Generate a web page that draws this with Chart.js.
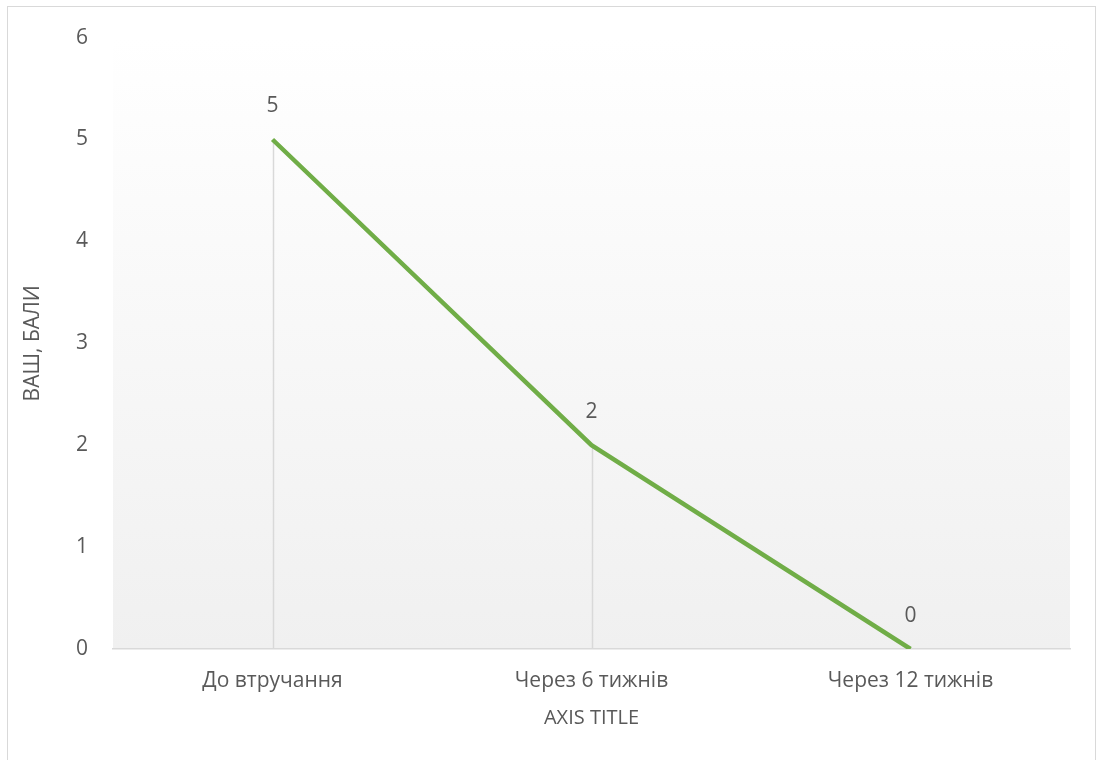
<!DOCTYPE html>
<html>
<head>
<meta charset="utf-8">
<script src="https://cdn.jsdelivr.net/npm/chart.js@4"></script>
<style>
  body { margin: 0; background: #fff; }
  #wrap { position: relative; width: 1099px; height: 760px; }
  #frame { position: absolute; left: 7px; top: 6px; width: 1089px; height: 800px; border: 1px solid #d9d9d9; box-sizing: border-box; }
</style>
</head>
<body>
<div id="wrap">
  <div id="frame"></div>
  <canvas id="myChart"></canvas>
</div>
<script>
const categories = ['До втручання', 'Через 6 тижнів', 'Через 12 тижнів'];
const vasScores = [5, 2, 0];
const yTicks = [0, 1, 2, 3, 4, 5, 6];

const textColor = '#595959';
const fontFamily = "'Open Sans', 'Noto Sans', sans-serif";

// gradient behind the plot area
const plotBg = {
  id: 'plotBg',
  beforeDraw(chart) {
    const {ctx, chartArea: a} = chart;
    const g = ctx.createLinearGradient(0, a.top, 0, a.bottom);
    g.addColorStop(0, '#ffffff');
    g.addColorStop(1, '#f0f0f0');
    ctx.save();
    ctx.fillStyle = g;
    ctx.fillRect(a.left, a.top, a.right - a.left, a.bottom - a.top);
    ctx.restore();
  }
};

// drop lines from each point to the axis + value labels
const dropLines = {
  id: 'dropLines',
  beforeDatasetsDraw(chart) {
    const {ctx, chartArea: a, scales: {x, y}} = chart;
    ctx.save();
    ctx.strokeStyle = '#d9d9d9';
    ctx.lineWidth = 1.5;
    vasScores.forEach((v, i) => {
      const px = Math.round(x.getPixelForValue(i)) + 0.5;
      ctx.beginPath();
      ctx.moveTo(px, y.getPixelForValue(v));
      ctx.lineTo(px, a.bottom);
      ctx.stroke();
    });
    ctx.restore();
  },
  afterDatasetsDraw(chart) {
    const {ctx, scales: {x, y}} = chart;
    ctx.save();
    ctx.fillStyle = textColor;
    ctx.font = '21px ' + fontFamily;
    ctx.textAlign = 'center';
    ctx.textBaseline = 'middle';
    vasScores.forEach((v, i) => {
      ctx.fillText(String(v), x.getPixelForValue(i), y.getPixelForValue(v) - 33);
    });
    ctx.restore();
  }
};

const myCtx = document.getElementById('myChart').getContext('2d');
const myChart = new Chart(myCtx, {
  type: 'line',
  data: {
    labels: categories,
    datasets: [{
      data: vasScores,
      borderColor: '#70ad47',
      borderWidth: 4.5,
      pointRadius: 0,
      tension: 0,
      fill: false
    }]
  },
  options: {
    responsive: true,
    maintainAspectRatio: false,
    animation: false,
    layout: {padding: {top: 29, right: 29, bottom: 0, left: 0}},
    plugins: {
      legend: {display: false},
      tooltip: {enabled: false}
    },
    scales: {
      x: {
        offset: true,
        grid: {display: false, drawTicks: false},
        border: {display: true, color: '#d9d9d9', width: 1.5},
        ticks: {color: textColor, font: {family: fontFamily, size: 21}, padding: 19},
        title: {display: true, text: 'AXIS TITLE', color: textColor,
                font: {family: fontFamily, size: 20}, padding: {top: 0, bottom: 30}},
        afterFit(scale) { scale.height = 111; }
      },
      y: {
        min: 0,
        max: 6,
        grid: {display: false, drawTicks: false},
        border: {display: false},
        afterBuildTicks(scale) { scale.ticks = yTicks.map(v => ({value: v})); },
        ticks: {color: textColor, font: {family: fontFamily, size: 21}, padding: 25},
        title: {display: true, text: 'ВАШ, БАЛИ', color: textColor,
                font: {family: fontFamily, size: 21}, padding: {top: 20, bottom: 0}},
        afterFit(scale) { scale.width = 113; }
      }
    }
  },
  plugins: [plotBg, dropLines]
});
</script>
</body>
</html>
